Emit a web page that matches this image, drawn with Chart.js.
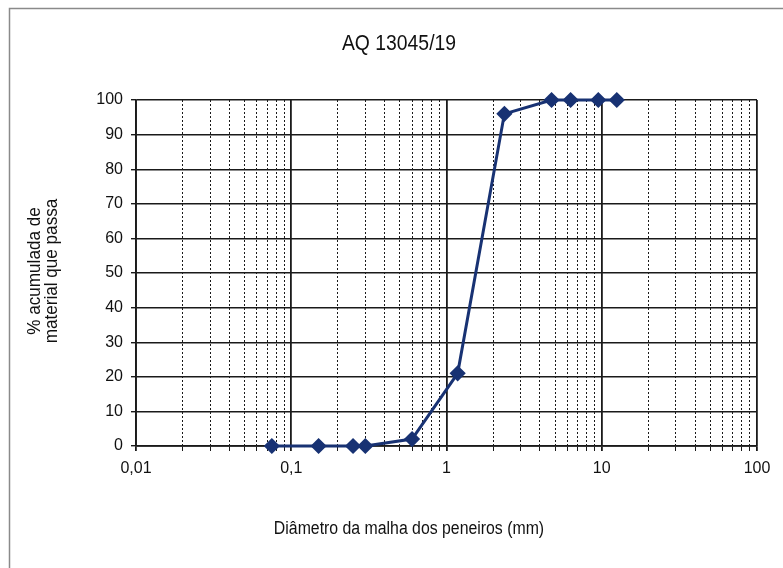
<!DOCTYPE html>
<html>
<head>
<meta charset="utf-8">
<script src="https://cdn.jsdelivr.net/npm/chart.js@4/dist/chart.umd.min.js"></script>
<style>
  html, body { margin: 0; padding: 0; background: #fff; }
  #wrap { width: 783px; height: 568px; }
</style>
</head>
<body>
<div id="wrap"><canvas id="chart" width="783" height="568"></canvas></div>
<script>
// sieve opening (mm) and cumulative % passing
var SIEVE_MM = [0.075, 0.15, 0.25, 0.3, 0.6, 1.18, 2.36, 4.75, 6.3, 9.5, 12.5];
var PASSING = [0, 0, 0, 0, 2, 21, 96, 100, 100, 100, 100];

var X_DECADES = [0.01, 0.1, 1, 10, 100];
var X_DECADE_LABELS = ["0,01", "0,1", "1", "10", "100"];
var Y_MIN = 0, Y_MAX = 100, Y_STEP = 10;

var TITLE = "AQ 13045/19";
var X_TITLE = "Diâmetro da malha dos peneiros (mm)";
var Y_TITLE = ["% acumulada de", "material que passa"];

var FONT = "'Liberation Sans', Arial, sans-serif";
var LINE_COLOR = "rgb(24, 50, 115)";

function isDecade(v) {
  return X_DECADES.some(function (d) { return Math.abs(v - d) / d < 1e-6; });
}

function decadeLabel(v) {
  for (var i = 0; i < X_DECADES.length; i++) {
    if (Math.abs(v - X_DECADES[i]) / X_DECADES[i] < 1e-6) return X_DECADE_LABELS[i];
  }
  return "";
}

// narrow-looking text: draw squeezed horizontally
function narrowText(ctx, text, x, y, size, squeeze) {
  ctx.save();
  ctx.translate(x, y);
  ctx.scale(squeeze, 1);
  ctx.font = size + "px " + FONT;
  ctx.fillText(text, 0, 0);
  ctx.restore();
}

var frameAndText = {
  id: "frameAndText",
  beforeDraw: function (chart) {
    var ctx = chart.ctx;
    ctx.save();
    ctx.fillStyle = "#fff";
    ctx.fillRect(0, 0, chart.width, chart.height);
    ctx.strokeStyle = "#8a8a8a";
    ctx.lineWidth = 1.5;
    ctx.strokeRect(9.5, 8.5, chart.width + 10, chart.height + 10);
    ctx.restore();
  },
  afterDraw: function (chart) {
    var ctx = chart.ctx;
    ctx.save();
    ctx.fillStyle = "#111";
    ctx.textAlign = "center";
    ctx.textBaseline = "middle";

    narrowText(ctx, TITLE, 399, 44, 22, 0.88);
    narrowText(ctx, X_TITLE, 409, 529, 18, 0.88);

    ctx.translate(43, 271);
    ctx.rotate(-Math.PI / 2);
    narrowText(ctx, Y_TITLE[0], 0, -8.5, 19, 0.9);
    narrowText(ctx, Y_TITLE[1], 0, 8.5, 19, 0.9);
    ctx.restore();
  }
};

var points = SIEVE_MM.map(function (x, i) { return { x: x, y: PASSING[i] }; });

new Chart(document.getElementById("chart"), {
  type: "scatter",
  data: {
    datasets: [{
      data: points,
      showLine: true,
      borderColor: LINE_COLOR,
      backgroundColor: LINE_COLOR,
      borderWidth: 3,
      pointStyle: "rectRot",
      pointRadius: 6,
      pointHoverRadius: 6,
      clip: false
    }]
  },
  options: {
    responsive: false,
    animation: false,
    layout: { padding: { top: 100, right: 26, left: 0, bottom: 0 } },
    plugins: {
      legend: { display: false },
      tooltip: { enabled: false }
    },
    scales: {
      x: {
        type: "logarithmic",
        min: X_DECADES[0],
        max: X_DECADES[X_DECADES.length - 1],
        afterBuildTicks: function (scale) {
          var ticks = [];
          for (var d = 0; d < X_DECADES.length - 1; d++) {
            for (var m = 1; m <= 9; m++) ticks.push({ value: X_DECADES[d] * m });
          }
          ticks.push({ value: X_DECADES[X_DECADES.length - 1] });
          scale.ticks = ticks;
        },
        afterFit: function (scale) { scale.height = 122; },
        ticks: {
          autoSkip: false,
          maxRotation: 0,
          padding: 8,
          color: "#111",
          font: { family: FONT, size: 16 },
          callback: function (v) { return decadeLabel(v); }
        },
        grid: {
          color: "#1a1a1a",
          lineWidth: function (c) { return c.tick && isDecade(c.tick.value) ? 1.8 : 1; },
          tickLength: 5,
          tickColor: "#1a1a1a"
        },
        border: {
          color: "#1a1a1a",
          width: 1.8,
          dash: function (c) {
            return c.tick && !isDecade(c.tick.value) ? [2, 2] : [];
          }
        }
      },
      y: {
        min: Y_MIN,
        max: Y_MAX,
        afterFit: function (scale) { scale.width = 136; },
        ticks: {
          stepSize: Y_STEP,
          padding: 8,
          color: "#111",
          font: { family: FONT, size: 16 }
        },
        grid: {
          color: "#1a1a1a",
          lineWidth: 1.4,
          tickLength: 5,
          tickColor: "#1a1a1a"
        },
        border: { color: "#1a1a1a", width: 1.8 }
      }
    }
  },
  plugins: [frameAndText]
});
</script>
</body>
</html>
